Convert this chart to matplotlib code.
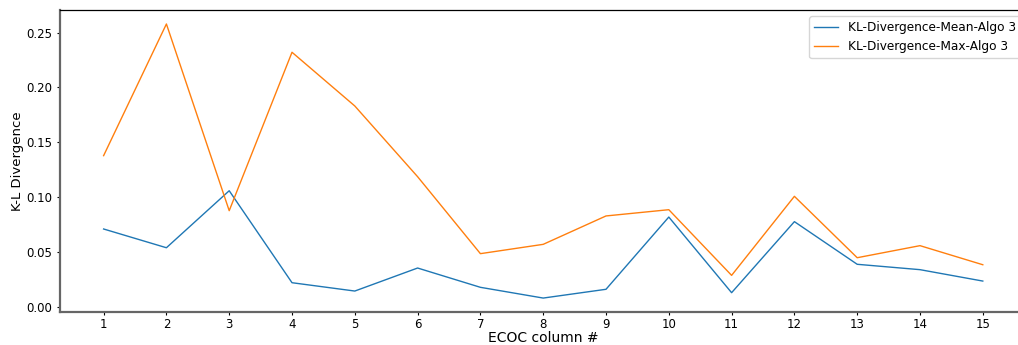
import matplotlib
matplotlib.use("Agg")
import matplotlib.pyplot as plt

columns = list(range(1, 16))
kl_mean = [0.0709, 0.0538, 0.1058, 0.0219, 0.0143, 0.0353, 0.0177, 0.0079,
           0.0159, 0.0818, 0.0128, 0.0776, 0.0387, 0.0338, 0.0234]
kl_max = [0.1378, 0.2579, 0.0876, 0.2321, 0.1831, 0.1186, 0.0484, 0.0569,
          0.0828, 0.0885, 0.0286, 0.1007, 0.0447, 0.0557, 0.0383]

fig = plt.figure(figsize=(10.18, 3.45), dpi=100)
ax = fig.add_axes([0.0586, 0.0957, 0.9500, 0.8745])

ax.plot(columns, kl_mean, color="#1f77b4", linewidth=1.0,
        label="KL-Divergence-Mean-Algo 3")
ax.plot(columns, kl_max, color="#ff7f0e", linewidth=1.0,
        label="KL-Divergence-Max-Algo 3")

ax.set_xticks(columns)
ax.set_yticks([0.0, 0.05, 0.10, 0.15, 0.20, 0.25])
ax.set_xlim(0.3, 15.7)
ax.set_ylim(-0.0048, 0.2704)
ax.set_xlabel("ECOC column #", fontsize=10, labelpad=0.5)
ax.set_ylabel("K-L Divergence", fontsize=9.5, labelpad=1.5)
ax.tick_params(axis="x", labelsize=8.5, length=2.5, width=0.8, pad=1.5)
ax.tick_params(axis="y", labelsize=8.5, length=2.5, width=0.8, pad=3)

for side in ("left", "bottom"):
    ax.spines[side].set_color("#666666")
    ax.spines[side].set_linewidth(1.6)
ax.spines["top"].set_linewidth(0.9)

ax.legend(loc="upper right", fontsize=8.7, framealpha=0.8)

fig.savefig("out.png", dpi=100)
